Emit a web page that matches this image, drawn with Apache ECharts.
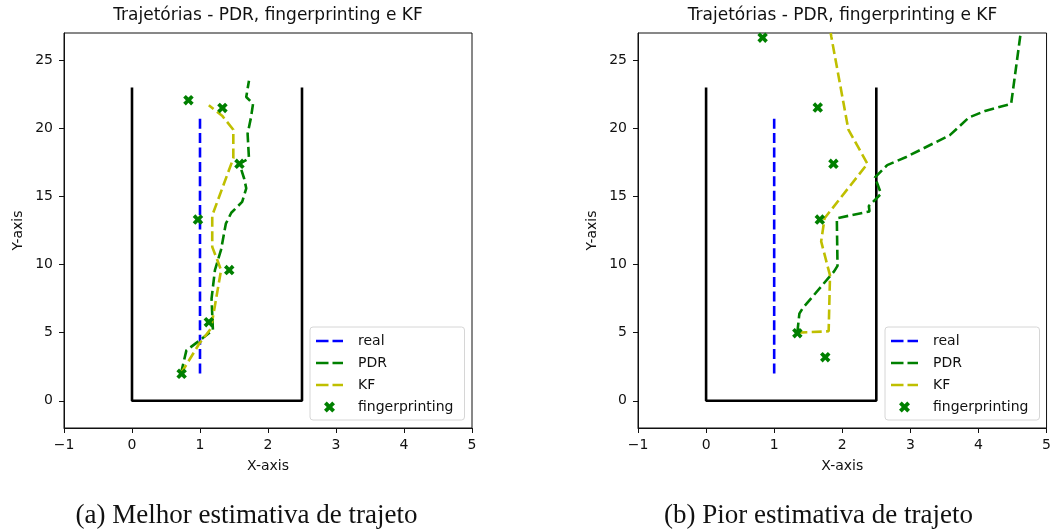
<!DOCTYPE html>
<html>
<head>
<meta charset="utf-8">
<script src="https://cdn.jsdelivr.net/npm/echarts@6/dist/echarts.min.js"></script>
<style>
  html, body { margin: 0; padding: 0; background: #fff; }
  #chart { width: 1054px; height: 532px; }
</style>
</head>
<body>
<div id="chart"></div>
<script>
// corridor walls (drawn as an open rectangle) and ground truth
const wall = [[0, 23], [0, 0], [2.5, 0], [2.5, 23]];
const real = [[1, 2], [1, 21]];

// (a) best estimate
const pdrBest = [[0.72, 2.0], [0.80, 3.7], [1.04, 4.6], [1.19, 5.2], [1.17, 7.5], [1.22, 9.6], [1.31, 11.1], [1.38, 13.0], [1.46, 13.8], [1.62, 14.6], [1.68, 15.6], [1.65, 16.3], [1.58, 17.4], [1.72, 17.8], [1.70, 19.6], [1.75, 20.8], [1.78, 21.8], [1.68, 22.3], [1.72, 23.5]];
const kfBest = [[0.72, 2.0], [0.99, 4.2], [1.16, 5.3], [1.22, 7.0], [1.31, 9.6], [1.18, 11.3], [1.18, 13.6], [1.49, 17.8], [1.49, 19.9], [1.33, 20.9], [1.13, 21.7]];
const fpBest = [[0.83, 22.07], [1.33, 21.5], [1.58, 17.4], [0.97, 13.3], [1.43, 9.6], [1.13, 5.77], [0.73, 1.98]];

// (b) worst estimate
const pdrWorst = [[1.34, 5.0], [1.37, 6.4], [1.42, 6.8], [1.88, 9.5], [1.93, 9.9], [1.92, 13.4], [2.40, 13.9], [2.39, 14.3], [2.57, 15.2], [2.48, 16.4], [2.66, 17.3], [2.94, 17.9], [3.58, 19.5], [3.86, 20.8], [4.11, 21.3], [4.48, 21.8], [4.62, 27.0]];
const kfWorst = [[1.34, 5.0], [1.80, 5.1], [1.82, 9.2], [1.69, 11.7], [1.74, 13.4], [2.37, 17.4], [2.09, 19.9], [1.84, 26.7], [1.83, 27.0]];
const fpWorst = [[0.83, 26.66], [1.64, 21.53], [1.87, 17.4], [1.67, 13.3], [1.34, 4.96], [1.75, 3.2]];

const xTicks = [-1, 0, 1, 2, 3, 4, 5];
const yTicks = [0, 5, 10, 15, 20, 25];
const legendNames = ["real", "PDR", "KF", "fingerprinting"];
const title = "Trajetórias - PDR, fingerprinting e KF";
const captions = ["(a) Melhor estimativa de trajeto", "(b) Pior estimativa de trajeto"];

const font = "DejaVu Sans";
const xMarker = "path://M0.25,0L0.5,0.25L0.75,0L1,0.25L0.75,0.5L1,0.75L0.75,1L0.5,0.75L0.25,1L0,0.75L0.25,0.5L0,0.25Z";
const dashIcon = "path://M0,0H12.5V2.6H0ZM16.5,0H27V2.6H16.5Z";
const dash = [10, 4.4];
const minus = v => String(v).replace("-", "\u2212");

const panels = [
  { left: 64, width: 408, pdr: pdrBest, kf: kfBest, fp: fpBest, caption: 246.5 },
  { left: 638, width: 409, pdr: pdrWorst, kf: kfWorst, fp: fpWorst, caption: 818.5 },
];

const lineSeries = (name, data, color, i, style) => ({
  name, type: "line", data, xAxisIndex: i, yAxisIndex: i,
  symbol: "none", clip: true, silent: true,
  lineStyle: { color, width: 2.6, type: style },
  itemStyle: { color },
});

const chart = echarts.init(document.getElementById("chart"));
chart.setOption({
  animation: false,
  backgroundColor: "#fff",
  textStyle: { fontFamily: font },
  title: panels.map(p => ({
    text: title, left: p.left + p.width / 2, top: 7, textAlign: "center", padding: 0,
    textStyle: { fontFamily: font, fontSize: 17, fontWeight: "normal", color: "#111" },
  })),
  grid: panels.map(p => ({ left: p.left, top: 33, width: p.width, height: 395, show: true, borderColor: "#111", borderWidth: 1, backgroundColor: "transparent" })),
  legend: panels.map(p => ({
    data: legendNames.map(name => ({ name, icon: name === "fingerprinting" ? xMarker : dashIcon })),
    orient: "vertical",
    left: p.left + p.width - 162, top: 327,
    itemWidth: 27, itemHeight: 11, itemGap: 8,
    padding: [7, 11, 6, 6],
    backgroundColor: "rgba(255,255,255,0.8)", borderColor: "#d6d6d6", borderWidth: 1, borderRadius: 3,
    textStyle: { fontFamily: font, fontSize: 14, color: "#111", padding: [0, 0, 0, 10] },
    itemStyle: { opacity: 1 },
    selectedMode: false,
  })),
  xAxis: panels.map((p, i) => ({
    type: "value", gridIndex: i, min: -1, max: 5, interval: 1,
    name: "X-axis", nameLocation: "middle", nameGap: 31,
    nameTextStyle: { fontFamily: font, fontSize: 14, color: "#111" },
    axisLine: { show: true, onZero: false, lineStyle: { color: "#111", width: 1 } },
    axisTick: { show: true, length: 5, lineStyle: { color: "#111" }, customValues: xTicks },
    axisLabel: { fontSize: 14, color: "#111", margin: 10, formatter: minus, customValues: xTicks },
    splitLine: { show: false },
  })),
  yAxis: panels.map((p, i) => ({
    type: "value", gridIndex: i, min: -2, max: 27,
    name: "Y-axis", nameLocation: "middle", nameGap: 39,
    nameTextStyle: { fontFamily: font, fontSize: 14, color: "#111" },
    axisLine: { show: true, onZero: false, lineStyle: { color: "#111", width: 1 } },
    axisTick: { show: true, length: 5, lineStyle: { color: "#111" }, customValues: yTicks },
    axisLabel: { fontSize: 14, color: "#111", margin: 11, customValues: yTicks },
    splitLine: { show: false },
  })),
  series: panels.flatMap((p, i) => [
    lineSeries("walls", wall, "#000", i, "solid"),
    lineSeries("real", real, "#0000ff", i, dash),
    lineSeries("PDR", p.pdr, "#008000", i, dash),
    lineSeries("KF", p.kf, "#bfbf00", i, dash),
    {
      name: "fingerprinting", type: "scatter", data: p.fp, xAxisIndex: i, yAxisIndex: i,
      symbol: xMarker, symbolSize: 10.5, silent: true, z: 5,
      itemStyle: { color: "#008000", opacity: 1 },
    },
  ]),
  graphic: panels.map((p, i) => ({
    type: "text", x: p.caption, y: 516,
    style: { text: captions[i], fontFamily: "Liberation Serif", fontSize: 27, fill: "#111", align: "center", verticalAlign: "middle" },
  })),
});
</script>
</body>
</html>
